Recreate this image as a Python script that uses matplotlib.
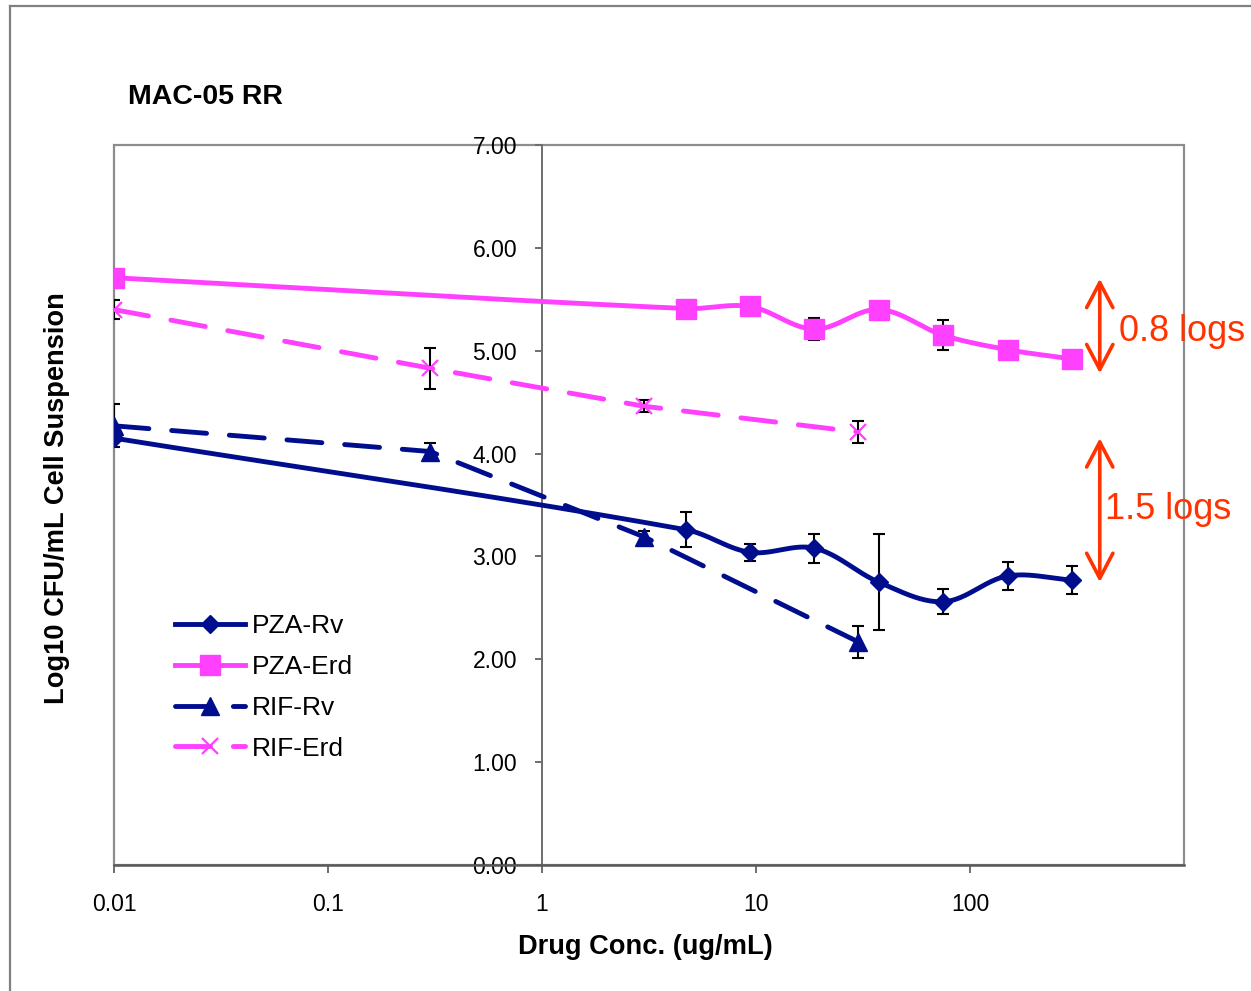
import matplotlib
matplotlib.use('Agg')
import matplotlib.pyplot as plt
import numpy as np
from matplotlib.lines import Line2D
from matplotlib.patches import Rectangle
from matplotlib.ticker import NullLocator, FormatStrFormatter

plt.rcParams['font.family'] = ['Liberation Sans', 'DejaVu Sans']

# ---------------- data ----------------
pza_conc = [0.01, 4.69, 9.375, 18.75, 37.5, 75, 150, 300]
pza_rv = [4.15, 3.26, 3.04, 3.08, 2.75, 2.56, 2.81, 2.77]
pza_rv_err = [0.03, 0.17, 0.08, 0.14, 0.47, 0.12, 0.14, 0.14]
pza_erd = [5.71, 5.41, 5.43, 5.21, 5.40, 5.15, 5.01, 4.92]
pza_erd_err = [0.03, 0.03, 0.03, 0.11, 0.03, 0.145, 0.03, 0.03]

rif_conc = [0.01, 0.3, 3, 30]
rif_rv = [4.27, 4.02, 3.19, 2.17]
rif_rv_err = [0.21, 0.08, 0.06, 0.155]
rif_erd = [5.40, 4.83, 4.46, 4.21]
rif_erd_err = [0.09, 0.20, 0.06, 0.105]

series_labels = ['PZA-Rv', 'PZA-Erd', 'RIF-Rv', 'RIF-Erd']
x_ticks = [0.01, 0.1, 1, 10, 100]
x_tick_labels = ['0.01', '0.1', '1', '10', '100']
y_ticks = [0, 1, 2, 3, 4, 5, 6, 7]

arrow1 = (5.70, 4.78)
arrow2 = (4.15, 2.75)
note1 = '0.8 logs'
note2 = '1.5 logs'

NAVY = '#000E8E'
PINK = '#FF40FF'
RED = '#FF3300'
GREY = '#8C8C8C'
DARK = '#5A5A5A'

W, H = 1251, 991
fig = plt.figure(figsize=(W / 100, H / 100), dpi=100)
ax = fig.add_axes([114 / W, (H - 865) / H, (1184 - 114) / W, (865 - 145) / H])
ax.set_xscale('log')
ax.set_xlim(0.01, 1000)
ax.set_ylim(0, 7)


def smooth(ax, x, y, n=40):
    P = ax.transData.transform(np.column_stack([x, y]))
    m = len(P)
    T = []
    for i in range(m):
        a = P[max(i - 1, 0)]
        b = P[min(i + 1, m - 1)]
        d = b - a
        T.append(d / np.hypot(*d))
    out = [P[:1]]
    t = np.linspace(0, 1, n)[1:, None]
    for i in range(m - 1):
        p1, p2 = P[i], P[i + 1]
        L = np.hypot(*(p2 - p1))
        c1 = p1 + T[i] * L / 3
        c2 = p2 - T[i + 1] * L / 3
        seg = (1 - t) ** 3 * p1 + 3 * (1 - t) ** 2 * t * c1 + 3 * (1 - t) * t ** 2 * c2 + t ** 3 * p2
        out.append(seg)
    Q = np.vstack(out)
    D = ax.transData.inverted().transform(Q)
    return D[:, 0], D[:, 1]


LW = 3.5
DASH = (0, (7.2, 4.7))
eb_kw = dict(fmt='none', ecolor='black', elinewidth=1.5, capsize=4.3, capthick=1.5, zorder=4)

# PZA-Rv
sx, sy = smooth(ax, pza_conc, pza_rv)
ax.plot(sx, sy, color=NAVY, lw=LW, solid_capstyle='round', zorder=3)
ax.errorbar(pza_conc, pza_rv, yerr=pza_rv_err, **eb_kw)
ax.plot(pza_conc, pza_rv, ls='none', marker='D', ms=9.5, color=NAVY, mec=NAVY, mew=1, zorder=5)

# PZA-Erd
sx, sy = smooth(ax, pza_conc, pza_erd)
ax.plot(sx, sy, color=PINK, lw=LW, solid_capstyle='round', zorder=3)
ax.errorbar(pza_conc, pza_erd, yerr=pza_erd_err, **eb_kw)
ax.plot(pza_conc, pza_erd, ls='none', marker='s', ms=14, color=PINK, mec=PINK, mew=1, zorder=5)

# RIF-Rv
ax.plot(rif_conc, rif_rv, color=NAVY, lw=LW, ls=DASH, dash_capstyle='round', zorder=3)
ax.errorbar(rif_conc, rif_rv, yerr=rif_rv_err, **eb_kw)
ax.plot(rif_conc, rif_rv, ls='none', marker='^', ms=13, color=NAVY, mec=NAVY, mew=1, zorder=5)

# RIF-Erd
ax.plot(rif_conc, rif_erd, color=PINK, lw=LW, ls=DASH, dash_capstyle='round', zorder=3)
ax.errorbar(rif_conc, rif_erd, yerr=rif_erd_err, **eb_kw)
ax.plot(rif_conc, rif_erd, ls='none', marker='x', ms=12, color=PINK, mec=PINK, mew=1.6, zorder=5)

# axes styling
for s in ['top', 'right']:
    ax.spines[s].set_visible(False)
ax.add_patch(Rectangle((0, 0), 1, 1, transform=ax.transAxes, fill=False,
                       edgecolor=GREY, lw=1.6, zorder=0.5, clip_on=False))
ax.spines['left'].set_position(('data', 1))
ax.spines['left'].set_color('#6E6E6E')
ax.spines['left'].set_linewidth(1.4)
ax.spines['bottom'].set_color(DARK)
ax.spines['bottom'].set_linewidth(1.8)

ax.set_xticks(x_ticks)
ax.set_xticklabels(x_tick_labels)
ax.xaxis.set_minor_locator(NullLocator())
ax.set_yticks(y_ticks)
ax.yaxis.set_major_formatter(FormatStrFormatter('%.2f'))
ax.tick_params(axis='x', direction='out', length=6, width=1.4, color='#6E6E6E', pad=14, labelsize=16.5)
ax.tick_params(axis='y', direction='out', length=5, width=1.4, color='#6E6E6E', pad=13, labelsize=16.5)
for lab in ax.get_yticklabels():
    lab.set_zorder(6)

# annotations
astyle = '<->,head_length=0.4,head_width=0.21'
ax.annotate('', xy=(404, arrow1[0]), xytext=(404, arrow1[1]),
            arrowprops=dict(arrowstyle=astyle, color=RED, lw=2.6,
                            mutation_scale=45, shrinkA=0, shrinkB=0), annotation_clip=False)
ax.annotate('', xy=(404, arrow2[0]), xytext=(404, arrow2[1]),
            arrowprops=dict(arrowstyle=astyle, color=RED, lw=2.6,
                            mutation_scale=45, shrinkA=0, shrinkB=0), annotation_clip=False)
ax.text(496, 5.19, note1, color=RED, fontsize=26, va='center', ha='left', clip_on=False)
ax.text(426, 3.46, note2, color=RED, fontsize=26, va='center', ha='left', clip_on=False)

# legend
handles = [
    Line2D([], [], color=NAVY, lw=LW, marker='D', ms=9.5, mew=1),
    Line2D([], [], color=PINK, lw=LW, marker='s', ms=14, mew=1),
    Line2D([], [], color=NAVY, lw=LW, ls=DASH, dash_capstyle='round', marker='^', ms=13, mew=1),
    Line2D([], [], color=PINK, lw=LW, ls=DASH, dash_capstyle='round', marker='x', ms=12, mew=1.6),
]
fig.legend(handles, series_labels, loc='upper left', bbox_to_anchor=(175 / W, (H - 614) / H),
           bbox_transform=fig.transFigure, frameon=False, fontsize=19, handlelength=2.65,
           handletextpad=0.27, labelspacing=0.64, borderpad=0, borderaxespad=0)

# texts
fig.text(128 / W, 1 - 97 / H, 'MAC-05 RR', fontsize=20.5, weight='bold', va='center', ha='left')
fig.text(57 / W, 1 - 498 / H, 'Log10 CFU/mL Cell Suspension', fontsize=19.6, weight='bold',
         rotation=90, va='center', ha='center')
fig.text(645 / W, 1 - 947 / H, 'Drug Conc. (ug/mL)', fontsize=19.6, weight='bold', va='center', ha='center')

# outer chart border
fig.add_artist(Line2D([10 / W, 10 / W], [0, 1 - 6 / H], transform=fig.transFigure, color='#808080', lw=1.6))
fig.add_artist(Line2D([10 / W, 1], [1 - 6 / H, 1 - 6 / H], transform=fig.transFigure, color='#808080', lw=1.6))

fig.savefig('out.png', dpi=100)
